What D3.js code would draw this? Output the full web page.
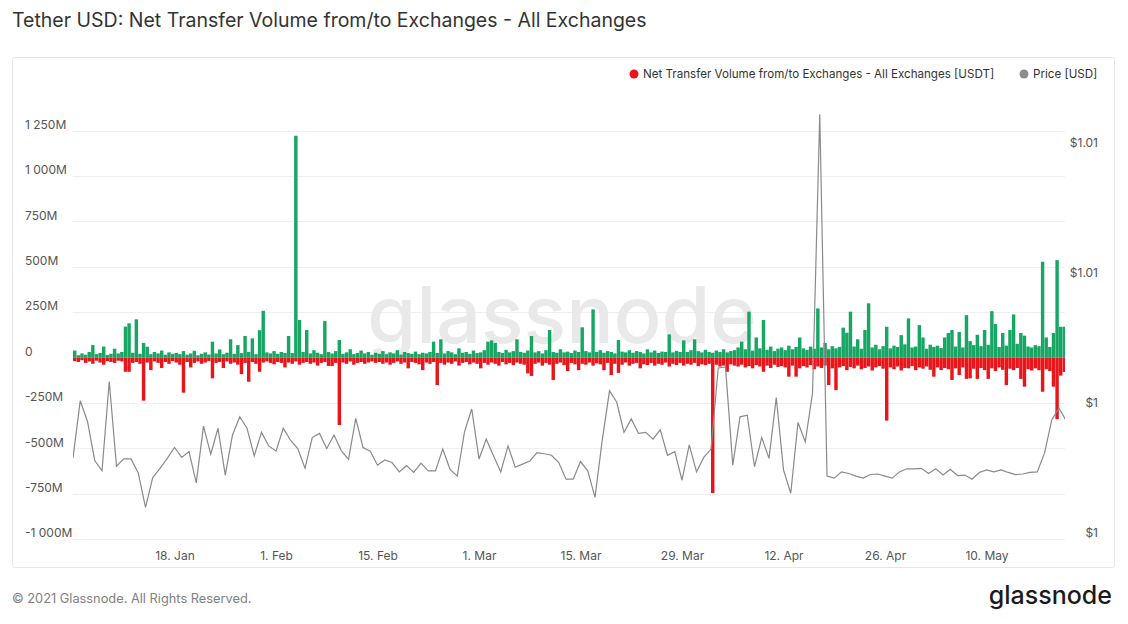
<!DOCTYPE html>
<html>
<head>
<meta charset="utf-8">
<script src="https://cdn.jsdelivr.net/npm/d3@7"></script>
<style>
  body { margin: 0; background: #fff; font-family: Inter, Roboto, "Noto Sans", sans-serif; }
  text { font-family: Inter, Roboto, "Noto Sans", sans-serif; }
</style>
</head>
<body>
<svg width="1128" height="624"></svg>
<script>
// net transfer volume, 12h buckets from 4 Jan 2021, millions of USDT
const inflowM = [
  38, 12, 22, 15, 30, 68, 18, 25, 60, 14, 20, 48, 22, 30,
  170, 188, 26, 210, 20, 80, 59, 18, 30, 22, 38, 15, 28, 20,
  25, 18, 35, 15, 22, 37, 12, 20, 28, 16, 87, 22, 44, 18,
  26, 100, 20, 68, 24, 118, 30, 105, 18, 150, 257, 28, 22, 35,
  20, 30, 25, 118, 24, 1221, 206, 30, 151, 22, 40, 26, 18, 200,
  30, 22, 35, 96, 20, 28, 45, 18, 25, 38, 22, 30, 15, 26,
  20, 35, 18, 28, 22, 40, 16, 30, 24, 20, 32, 18, 26, 22,
  30, 87, 25, 100, 22, 35, 28, 18, 50, 26, 30, 20, 38, 24,
  28, 40, 87, 94, 80, 30, 25, 42, 28, 35, 100, 30, 26, 38,
  118, 28, 35, 22, 40, 151, 30, 26, 45, 28, 32, 24, 38, 30,
  166, 35, 28, 265, 30, 40, 26, 35, 30, 22, 96, 32, 28, 40,
  26, 35, 30, 22, 45, 28, 38, 25, 32, 30, 127, 28, 36, 30,
  94, 30, 40, 100, 35, 28, 42, 30, 26, 38, 30, 45, 28, 35,
  40, 55, 87, 45, 252, 38, 110, 50, 206, 42, 60, 35, 48, 55,
  40, 65, 45, 58, 110, 50, 42, 60, 48, 270, 55, 80, 45, 62,
  50, 58, 164, 136, 252, 60, 100, 48, 151, 298, 55, 70, 45, 62,
  169, 50, 65, 58, 123, 72, 215, 55, 60, 178, 110, 48, 70, 58,
  65, 52, 110, 135, 151, 60, 140, 55, 233, 90, 68, 125, 62, 151,
  70, 255, 184, 58, 135, 65, 151, 237, 75, 135, 120, 60, 55, 68,
  62, 527, 110, 58, 135, 536, 169, 169
];
const outflowM = [
  -20, -25, -15, -30, -22, -35, -18, -28, -40, -20, -25, -30, -18, -22,
  -79, -79, -30, -25, -35, -238, -28, -70, -22, -30, -58, -25, -35, -20,
  -28, -40, -194, -25, -55, -30, -22, -35, -28, -20, -115, -30, -25, -58,
  -22, -35, -28, -40, -92, -30, -134, -25, -35, -79, -28, -22, -30, -38,
  -25, -30, -55, -28, -35, -22, -40, -30, -25, -35, -28, -45, -30, -25,
  -47, -47, -30, -372, -28, -35, -22, -40, -30, -25, -35, -28, -22, -30,
  -25, -35, -28, -40, -30, -22, -35, -28, -60, -25, -30, -38, -70, -28,
  -35, -25, -152, -30, -40, -28, -35, -22, -45, -30, -25, -38, -28, -35,
  -60, -30, -40, -28, -35, -45, -25, -38, -30, -42, -28, -35, -40, -88,
  -102, -35, -28, -45, -30, -40, -124, -35, -28, -42, -75, -30, -38, -70,
  -35, -40, -28, -45, -32, -38, -70, -30, -97, -35, -85, -40, -28, -45,
  -35, -30, -60, -38, -42, -30, -45, -35, -40, -28, -50, -35, -42, -30,
  -45, -35, -40, -30, -48, -38, -42, -35, -747, -40, -50, -45, -79, -38,
  -45, -50, -40, -55, -48, -60, -42, -50, -79, -45, -58, -40, -52, -48,
  -55, -106, -45, -106, -60, -48, -55, -42, -65, -50, -58, -45, -152, -60,
  -180, -55, -48, -70, -52, -60, -45, -65, -58, -50, -72, -55, -48, -62,
  -348, -55, -65, -50, -72, -58, -60, -48, -70, -55, -62, -50, -68, -106,
  -55, -70, -58, -65, -124, -60, -97, -55, -118, -115, -62, -118, -58, -70,
  -118, -60, -75, -55, -68, -152, -62, -70, -58, -118, -161, -65, -72, -60,
  -70, -189, -65, -75, -161, -340, -100, -80
];

// daily USDT price from 4 Jan 2021
const priceUsd = [
  1.00156, 1.00266, 1.00226, 1.00151, 1.00131, 1.00303, 1.00140, 1.00154, 1.00154, 1.00127,
  1.00061, 1.00118, 1.00136, 1.00155, 1.00176, 1.00157, 1.00168, 1.00108, 1.00217, 1.00163,
  1.00213, 1.00123, 1.00200, 1.00235, 1.00213, 1.00160, 1.00205, 1.00179, 1.00169, 1.00213,
  1.00190, 1.00174, 1.00136, 1.00195, 1.00203, 1.00174, 1.00200, 1.00170, 1.00153, 1.00232,
  1.00176, 1.00169, 1.00142, 1.00152, 1.00147, 1.00129, 1.00141, 1.00128, 1.00146, 1.00131,
  1.00131, 1.00173, 1.00134, 1.00121, 1.00206, 1.00250, 1.00154, 1.00192, 1.00160, 1.00129,
  1.00179, 1.00138, 1.00144, 1.00150, 1.00166, 1.00164, 1.00161, 1.00147, 1.00115, 1.00115,
  1.00149, 1.00131, 1.00080, 1.00190, 1.00285, 1.00263, 1.00205, 1.00231, 1.00203, 1.00205,
  1.00192, 1.00210, 1.00161, 1.00168, 1.00113, 1.00181, 1.00129, 1.00157, 1.00173, 1.00329,
  1.00331, 1.00142, 1.00235, 1.00238, 1.00139, 1.00195, 1.00155, 1.00272, 1.00133, 1.00088,
  1.00224, 1.00187, 1.00280, 1.00817, 1.00121, 1.00117, 1.00129, 1.00126, 1.00121, 1.00117,
  1.00124, 1.00125, 1.00121, 1.00117, 1.00129, 1.00135, 1.00135, 1.00136, 1.00126, 1.00135,
  1.00123, 1.00134, 1.00122, 1.00123, 1.00115, 1.00128, 1.00133, 1.00129, 1.00133, 1.00128,
  1.00124, 1.00125, 1.00128, 1.00129, 1.00165, 1.00229, 1.00252, 1.00227
];

const volTicks = [1250, 1000, 750, 500, 250, 0, -250, -500, -750, -1000];
const volTickLabels = ["1 250M", "1 000M", "750M", "500M", "250M", "0", "-250M", "-500M", "-750M", "-1 000M"];
const priceTicks = [1.0075, 1.005, 1.0025, 1.0];
const priceTickLabels = ["$1.01", "$1.01", "$1", "$1"];
const dateTicks = ["2021-01-18", "2021-02-01", "2021-02-15", "2021-03-01", "2021-03-15",
  "2021-03-29", "2021-04-12", "2021-04-26", "2021-05-10"];
const dateTickLabels = ["18. Jan", "1. Feb", "15. Feb", "1. Mar", "15. Mar", "29. Mar", "12. Apr", "26. Apr", "10. May"];

const DAY = 864e5;
const start = Date.UTC(2021, 0, 4);
const bucketStart = i => new Date(start + i * DAY / 2);
const dayDate = i => new Date(start + i * DAY);

const svg = d3.select("svg");
const plotLeft = 73, plotRight = 1065, plotTop = 100, plotBottom = 539;

const x = d3.scaleUtc()
  .domain([new Date(start), new Date(Date.UTC(2021, 4, 20, 19, 50))])
  .range([plotLeft, plotRight]);
const yVol = d3.scaleLinear().domain([-1000, 1250]).range([plotBottom, 130.5]);
const yPrice = d3.scaleLinear().domain([1.0, 1.0075]).range([plotBottom, 149]);

// title + card
svg.append("text")
  .attr("x", 12).attr("y", 27)
  .attr("font-size", 19.5).attr("fill", "#333")
  .text("Tether USD: Net Transfer Volume from/to Exchanges - All Exchanges");

svg.append("rect")
  .attr("x", 12.5).attr("y", 57.5).attr("width", 1102).attr("height", 510)
  .attr("rx", 2).attr("fill", "#fff").attr("stroke", "#e6e6e6");

// legend
const legend = [
  { label: "Net Transfer Volume from/to Exchanges - All Exchanges [USDT]", color: "#e8161b", x: 634 },
  { label: "Price [USD]", color: "#8c8c8c", x: 1024 }
];
const lg = svg.append("g").selectAll("g").data(legend).join("g")
  .attr("transform", d => `translate(${d.x},74)`);
lg.append("circle").attr("r", 4.5).attr("fill", d => d.color);
lg.append("text").attr("x", 9).attr("dy", "0.35em")
  .attr("font-size", 11.6).attr("fill", "#333").text(d => d.label);

// grid
svg.append("g").selectAll("line").data(volTicks).join("line")
  .attr("x1", plotLeft).attr("x2", plotRight)
  .attr("y1", d => Math.round(yVol(d)) + 0.5).attr("y2", d => Math.round(yVol(d)) + 0.5)
  .attr("stroke", "#efefef");

// watermark
svg.append("text")
  .attr("x", 562).attr("y", 343)
  .attr("text-anchor", "middle")
  .attr("font-size", 79).attr("font-weight", 500)
  .attr("fill", "#e9e9e9")
  .text("glassnode");

svg.append("clipPath").attr("id", "plot")
  .append("rect").attr("x", plotLeft).attr("y", plotTop)
  .attr("width", plotRight - plotLeft).attr("height", plotBottom - plotTop);

const plot = svg.append("g").attr("clip-path", "url(#plot)");
const bw = x(bucketStart(1)) - x(bucketStart(0));

plot.append("g").selectAll("rect").data(outflowM).join("rect")
  .attr("x", (d, i) => x(bucketStart(i)))
  .attr("width", bw - 0.2)
  .attr("y", yVol(0))
  .attr("height", d => yVol(d) - yVol(0))
  .attr("fill", "#e8161b");

plot.append("g").selectAll("rect").data(inflowM).join("rect")
  .attr("x", (d, i) => x(bucketStart(i)))
  .attr("width", bw - 0.2)
  .attr("y", d => yVol(d))
  .attr("height", d => yVol(0) - yVol(d))
  .attr("fill", "#17a664");

plot.append("path")
  .datum(priceUsd)
  .attr("fill", "none")
  .attr("stroke", "#8a8a8a")
  .attr("stroke-width", 1.2)
  .attr("d", d3.line().x((d, i) => x(dayDate(i))).y(d => yPrice(d)));

// axes
const axL = svg.append("g").attr("transform", "translate(25,0)")
  .call(d3.axisLeft(yVol).tickValues(volTicks).tickSize(0).tickFormat((d, i) => volTickLabels[i]));
axL.select(".domain").remove();
axL.selectAll("text").attr("x", 0).attr("y", -6).attr("text-anchor", "start")
  .attr("font-size", 12).attr("fill", "#555");
axL.attr("font-family", null);

const axR = svg.append("g").attr("transform", "translate(1098,0)")
  .call(d3.axisRight(yPrice).tickValues(priceTicks).tickSize(0).tickFormat((d, i) => priceTickLabels[i]));
axR.select(".domain").remove();
axR.selectAll("text").attr("x", 0).attr("y", -6).attr("text-anchor", "end")
  .attr("font-size", 12).attr("fill", "#555");
axR.attr("font-family", null);

const axB = svg.append("g").attr("transform", `translate(0,${plotBottom})`)
  .call(d3.axisBottom(x).tickValues(dateTicks.map(d => new Date(d))).tickSize(0)
    .tickFormat((d, i) => dateTickLabels[i]));
axB.select(".domain").remove();
axB.selectAll("text").attr("y", 12)
  .attr("font-size", 12).attr("fill", "#555");
axB.attr("font-family", null);

// footer
svg.append("text")
  .attr("x", 12).attr("y", 603)
  .attr("font-size", 12.8).attr("fill", "#808080")
  .text("© 2021 Glassnode. All Rights Reserved.");

svg.append("text")
  .attr("x", 1112).attr("y", 604)
  .attr("text-anchor", "end")
  .attr("font-size", 25).attr("font-weight", 500).attr("fill", "#1b1b1b")
  .text("glassnode");
</script>
</body>
</html>
